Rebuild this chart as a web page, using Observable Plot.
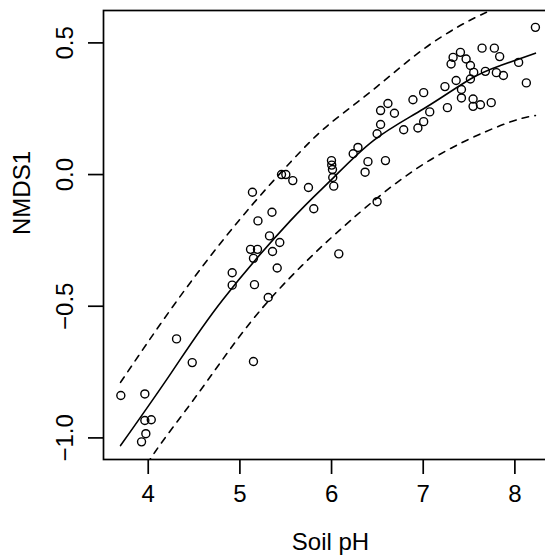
<!DOCTYPE html>
<html>
<head>
<meta charset="utf-8">
<script src="https://cdn.jsdelivr.net/npm/d3@7"></script>
<script src="https://cdn.jsdelivr.net/npm/@observablehq/plot@0.6"></script>
<style>
  html, body { margin: 0; padding: 0; background: #fff; overflow: hidden; }
  #chart svg { display: block; }
</style>
</head>
<body>
<div id="chart"></div>
<script>
// Observed samples: soil pH vs NMDS1 score
const soilPH = [3.701, 3.963, 3.963, 4.033, 3.974, 3.927, 4.309, 4.480, 5.148, 4.916,
  4.916, 5.116, 5.192, 5.148, 5.159, 5.197, 5.137, 5.309, 5.323, 5.435,
  5.356, 5.407, 5.350, 5.454, 5.501, 5.577, 5.748, 5.806, 5.999, 6.002,
  6.010, 6.013, 6.024, 6.079, 6.236, 6.288, 6.397, 6.366, 6.588, 6.497,
  6.497, 6.535, 6.535, 6.615, 6.686, 6.787, 6.942, 7.005, 7.071, 6.888,
  7.005, 7.237, 7.264, 7.359, 7.304, 7.326, 7.406, 7.468, 7.515, 7.551,
  7.515, 7.417, 7.417, 7.544, 7.544, 7.624, 7.742, 7.678, 7.642, 7.776,
  7.834, 7.798, 7.875, 8.041, 8.125, 8.224];
const nmds1 = [-0.839, -0.833, -0.934, -0.931, -0.984, -1.015, -0.624, -0.714, -0.710, -0.373,
  -0.420, -0.284, -0.284, -0.318, -0.418, -0.176, -0.067, -0.467, -0.233, -0.258,
  -0.292, -0.355, -0.143, 0.000, 0.000, -0.023, -0.049, -0.130, 0.053, 0.036,
  0.019, -0.011, -0.044, -0.301, 0.079, 0.103, 0.049, 0.009, 0.053, -0.103,
  0.155, 0.190, 0.243, 0.270, 0.233, 0.170, 0.177, 0.201, 0.238, 0.284,
  0.311, 0.334, 0.254, 0.357, 0.420, 0.445, 0.464, 0.439, 0.414, 0.388,
  0.363, 0.323, 0.291, 0.287, 0.259, 0.265, 0.273, 0.392, 0.480, 0.480,
  0.448, 0.387, 0.376, 0.426, 0.348, 0.559];

// Fitted curve (solid)
const fitX = [3.698, 4.251, 4.807, 5.552, 5.988, 6.460, 7.005, 7.515, 7.842, 8.224];
const fitY = [-1.029, -0.753, -0.478, -0.175, -0.023, 0.130, 0.250, 0.363, 0.414, 0.461];
// Upper prediction band (dashed)
const upX = [3.698, 4.316, 4.988, 5.552, 5.915, 6.279, 6.642, 7.005, 7.370, 7.733, 8.224];
const upY = [-0.789, -0.478, -0.175, 0.047, 0.1735, 0.274, 0.376, 0.477, 0.559, 0.623, 0.695];
// Lower prediction band (dashed)
const loX = [3.698, 4.061, 4.516, 5.116, 5.679, 6.205, 7.005, 7.842, 8.224];
const loY = [-1.270, -1.060, -0.845, -0.561, -0.345, -0.175, 0.040, 0.186, 0.224];

const xTicks = [4, 5, 6, 7, 8];
const yTicks = [-1.0, -0.5, 0.0, 0.5];
const yTickLabels = ["\u22121.0", "\u22120.5", "0.0", "0.5"];
const xLabel = "Soil pH";
const yLabel = "NMDS1";

const pts = soilPH.map((x, i) => ({x, y: nmds1[i]}));
const fit = fitX.map((x, i) => ({x, y: fitY[i]}));
const up = upX.map((x, i) => ({x, y: upY[i]}));
const lo = loX.map((x, i) => ({x, y: loY[i]}));
const yLab = yTicks.map((v, i) => ({v, t: yTickLabels[i]}));

const FONT = "'Liberation Sans', Arial, Helvetica, sans-serif";
const FS = 24;

const chart = Plot.plot({
  width: 557,
  height: 559,
  marginLeft: 103,
  marginRight: 0,
  marginTop: 10,
  marginBottom: 100,
  style: {fontFamily: FONT, fontSize: FS + "px", background: "#fff", maxWidth: "none", overflow: "hidden"},
  x: {domain: [3.512, 8.465], axis: null},
  y: {domain: [-1.082, 0.623], axis: null},
  marks: [
    Plot.line(fit, {x: "x", y: "y", stroke: "black", strokeWidth: 1.6, curve: "natural", clip: true}),
    Plot.line(up, {x: "x", y: "y", stroke: "black", strokeWidth: 1.6, strokeDasharray: "6.5,6.5", curve: "natural", clip: true}),
    Plot.line(lo, {x: "x", y: "y", stroke: "black", strokeWidth: 1.6, strokeDasharray: "6.5,6.5", curve: "natural", clip: true}),
    Plot.dot(pts, {x: "x", y: "y", r: 4, stroke: "black", strokeWidth: 1.4, fill: "none"}),
    Plot.frame({stroke: "black", strokeWidth: 1.7}),
    Plot.axisX(xTicks, {anchor: "bottom", tickSize: 15, strokeWidth: 1.7, tickFormat: () => "", label: null}),
    Plot.axisY(yTicks, {anchor: "left", tickSize: 15, strokeWidth: 1.7, tickFormat: () => "", label: null}),
    Plot.text(xTicks, {x: d => d, frameAnchor: "bottom", dy: 35, text: d => String(d), fontSize: FS, fill: "black", lineAnchor: "middle"}),
    Plot.text(yLab, {y: "v", frameAnchor: "left", dx: -38, text: "t", rotate: -90, textAnchor: "middle", lineAnchor: "middle", fontSize: FS, fill: "black"}),
    Plot.text([xLabel], {frameAnchor: "bottom", dy: 83, text: d => d, fontSize: FS, fill: "black", lineAnchor: "middle"}),
    Plot.text([yLabel], {frameAnchor: "left", dx: -81, text: d => d, rotate: -90, fontSize: FS, fill: "black", lineAnchor: "middle"})
  ]
});
document.getElementById("chart").appendChild(chart);
</script>
</body>
</html>
